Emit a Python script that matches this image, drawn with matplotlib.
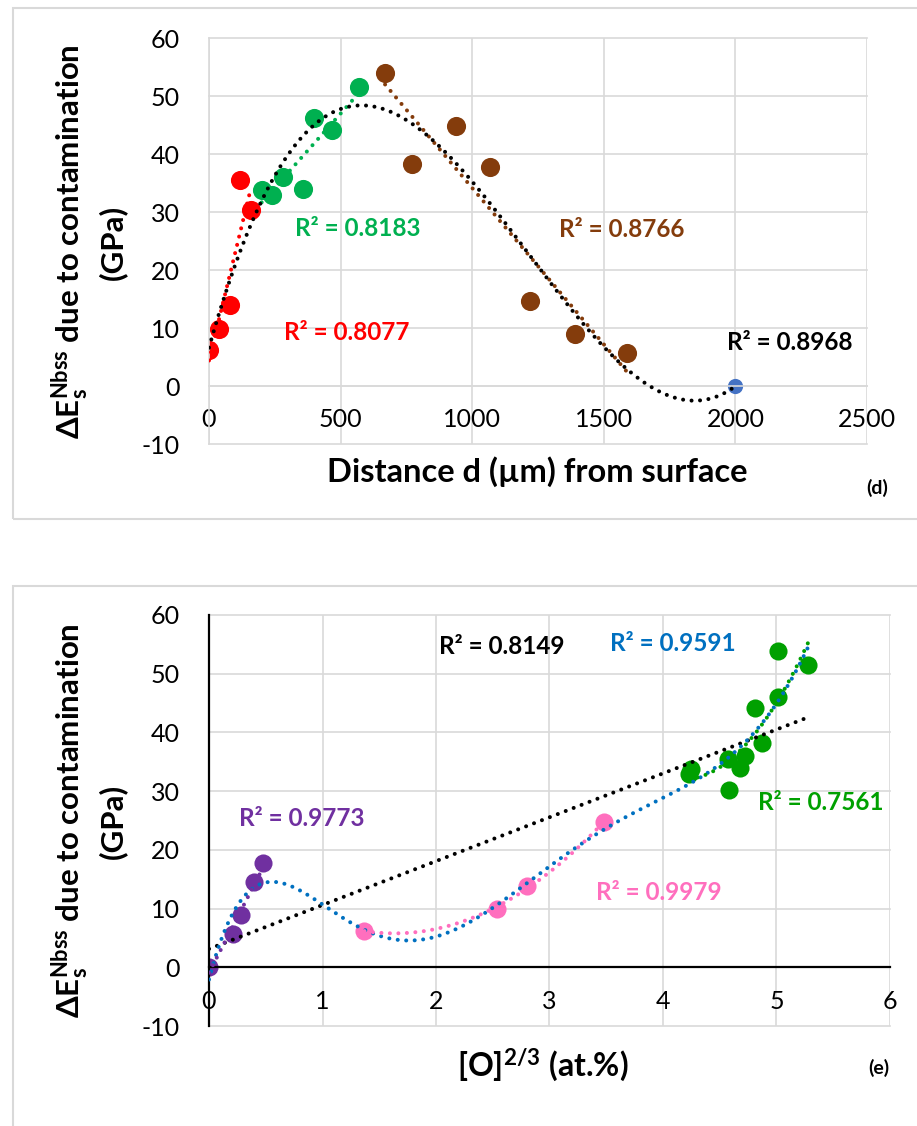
import numpy as np, matplotlib
matplotlib.use("Agg")
import matplotlib.pyplot as plt
from matplotlib.patches import Rectangle

FONT = ["Lato", "DejaVu Sans"]
plt.rcParams.update({
    "font.family": FONT,
    "mathtext.default": "regular",
    "axes.unicode_minus": False,
})

GRID = "#D9D9D9"
W, H = 917, 1126

# === Panel (d) data: distance from surface ===
d_red_x = [0, 39, 80, 119, 158]
d_red_y = [6.2, 9.9, 13.9, 35.6, 30.3]
d_green_x = [200, 240, 281, 358, 400, 468, 570]
d_green_y = [33.8, 32.9, 36.0, 34.0, 46.2, 44.2, 51.5]
d_brown_x = [669, 770, 938, 1068, 1220, 1389, 1590]
d_brown_y = [53.9, 38.3, 44.9, 37.8, 14.7, 9.0, 5.7]
d_blue_x = [2000]
d_blue_y = [0.0]

# === Panel (e) data: [O]^(2/3) ===
e_purple_x = [0, 0.21, 0.28, 0.40, 0.48]
e_purple_y = [0, 5.7, 8.9, 14.6, 17.7]
e_pink_x = [1.37, 2.54, 2.80, 3.48]
e_pink_y = [6.2, 9.9, 13.9, 24.7]
e_green_x = [4.23, 4.25, 4.57, 4.58, 4.68, 4.72, 4.81, 4.87, 5.01, 5.01, 5.28]
e_green_y = [32.9, 33.7, 35.5, 30.2, 34.0, 36.0, 44.2, 38.2, 46.1, 53.8, 51.5]

RED, GREEN_D, BROWN, BLUE_PT = "#FF0000", "#00B050", "#843C0C", "#4472C4"
PURPLE, PINK, GREEN_E, BLUE_TR = "#7030A0", "#FF6FBE", "#00A000", "#0070C0"


def trend(ax, x, y, deg, color):
    # Excel-style polynomial trendline over the series' x range
    c = np.polyfit(x, y, deg)
    xs = np.linspace(min(x), max(x), 400)
    ax.plot(xs, np.polyval(c, xs), color=color, lw=2.9,
            linestyle=(0, (0.01, 2.1)), dash_capstyle="round", zorder=3)


def style_axes(ax, xlim, xticks, axis_color):
    ax.set_xlim(*xlim)
    ax.set_ylim(-10, 60)
    ax.set_xticks(xticks)
    ax.set_yticks(range(-10, 61, 10))
    ax.grid(True, color=GRID, lw=1.2, zorder=0)
    for ln in ax.get_xgridlines() + ax.get_ygridlines():
        ln.set_clip_on(False)
    ax.set_axisbelow(True)
    for s in ["top", "right"]:
        ax.spines[s].set_visible(False)
    lw = 1.2 if axis_color == GRID else 1.6
    ax.spines["left"].set_color(axis_color)
    ax.spines["left"].set_linewidth(lw)
    ax.spines["bottom"].set_position(("data", 0))
    ax.spines["bottom"].set_color(axis_color)
    ax.spines["bottom"].set_linewidth(lw)
    ax.tick_params(axis="both", length=0, labelsize=18, colors="#000000")
    ax.tick_params(axis="y", pad=21)
    ax.tick_params(axis="x", pad=16)


def ylabel(fig, ycenter_px):
    fig.text(70 / W, 1 - ycenter_px / H,
             r"ΔE$_s^{Nbss}$ due to contamination", rotation=90,
             ha="center", va="center", fontsize=22.5, fontweight="bold")
    fig.text(113 / W, 1 - ycenter_px / H, "(GPa)", rotation=90,
             ha="center", va="center", fontsize=22.5, fontweight="bold")


fig = plt.figure(figsize=(W / 100, H / 100), dpi=100)

# outer panel frames
fig.add_artist(Rectangle((13 / W, 1 - 519 / H), 1.0, 511 / H,
                         transform=fig.transFigure, fill=False,
                         ec=GRID, lw=1.5))
fig.add_artist(Rectangle((13 / W, -0.05), 1.0, 1 - 586 / H + 0.05,
                         transform=fig.transFigure, fill=False,
                         ec=GRID, lw=1.5))

# ================= Panel (d) =================
ax1 = fig.add_axes([209 / W, 1 - 444 / H, (867 - 209) / W, (444 - 38) / H])
style_axes(ax1, (0, 2500), range(0, 2501, 500), GRID)
ms = 190
ax1.scatter(d_red_x, d_red_y, s=ms, color=RED, zorder=2, lw=0)
ax1.scatter(d_green_x, d_green_y, s=ms, color=GREEN_D, zorder=2, lw=0)
ax1.scatter(d_brown_x, d_brown_y, s=ms, color=BROWN, zorder=2, lw=0)
ax1.scatter(d_blue_x, d_blue_y, s=120, color=BLUE_PT, zorder=2, lw=0)
trend(ax1, d_red_x, d_red_y, 1, RED)
trend(ax1, d_green_x, d_green_y, 1, GREEN_D)
trend(ax1, d_brown_x, d_brown_y, 1, BROWN)
all_dx = d_red_x + d_green_x + d_brown_x + d_blue_x
all_dy = d_red_y + d_green_y + d_brown_y + d_blue_y
trend(ax1, all_dx, all_dy, 3, "#000000")

kw = dict(fontsize=17.5, fontweight="bold", va="center", ha="left")
ax1.text(327, 27.2, "R² = 0.8183", color=GREEN_D, **kw)
ax1.text(285, 9.3, "R² = 0.8077", color=RED, **kw)
ax1.text(1330, 26.9, "R² = 0.8766", color=BROWN, **kw)
ax1.text(1967, 7.5, "R² = 0.8968", color="#000000", **kw)

fig.text(537 / W, 1 - 472 / H, "Distance d (µm) from surface",
         ha="center", va="center", fontsize=23.5, fontweight="bold")
fig.text(877 / W, 1 - 488 / H, "(d)", ha="center", va="center",
         fontsize=14, fontweight="bold")
ylabel(fig, 242)

# ================= Panel (e) =================
ax2 = fig.add_axes([209 / W, 1 - 1026 / H, (890 - 209) / W, (1026 - 615) / H])
style_axes(ax2, (0, 6), range(0, 7), "#000000")
ms_e = 170
ax2.scatter(e_purple_x, e_purple_y, s=ms_e, color=PURPLE, zorder=2, lw=0)
ax2.scatter(e_pink_x, e_pink_y, s=ms_e, color=PINK, zorder=2, lw=0)
ax2.scatter(e_green_x, e_green_y, s=ms_e, color=GREEN_E, zorder=2, lw=0)
all_ex = e_purple_x + e_pink_x + e_green_x
all_ey = e_purple_y + e_pink_y + e_green_y
trend(ax2, all_ex, all_ey, 1, "#000000")
trend(ax2, all_ex, all_ey, 6, BLUE_TR)
trend(ax2, e_purple_x, e_purple_y, 1, PURPLE)
trend(ax2, e_pink_x, e_pink_y, 2, PINK)
trend(ax2, e_green_x, e_green_y, 2, GREEN_E)

ax2.text(2.03, 54.7, "R² = 0.8149", color="#000000", **kw)
ax2.text(3.53, 55.1, "R² = 0.9591", color=BLUE_TR, **kw)
ax2.text(0.267, 25.4, "R² = 0.9773", color=PURPLE, **kw)
ax2.text(4.84, 28.1, "R² = 0.7561", color=GREEN_E, **kw)
ax2.text(3.41, 12.8, "R² = 0.9979", color=PINK, **kw)

fig.text(543 / W, 1 - 1065 / H, r"[O]$^{2/3}$ (at.%)",
         ha="center", va="center", fontsize=23, fontweight="bold")
fig.text(879 / W, 1 - 1068 / H, "(e)", ha="center", va="center",
         fontsize=14, fontweight="bold")
ylabel(fig, 821)

fig.savefig("out.png", dpi=100)
